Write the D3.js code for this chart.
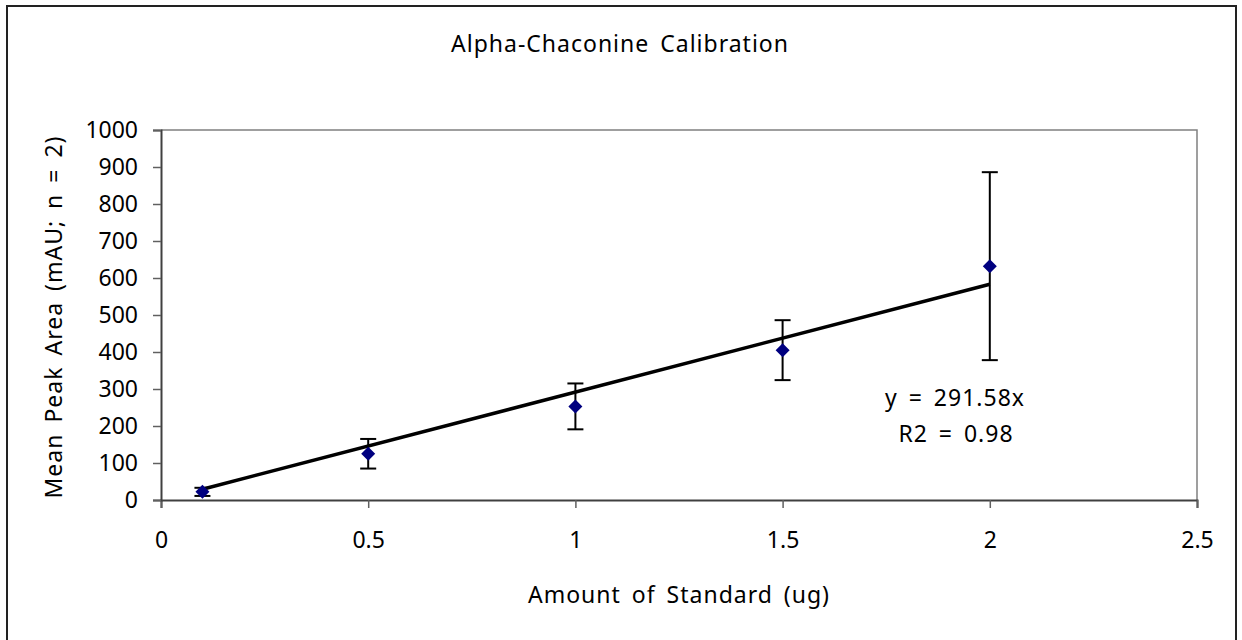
<!DOCTYPE html>
<html>
<head>
<meta charset="utf-8">
<script src="https://cdn.jsdelivr.net/npm/d3@7"></script>
<style>
  html, body { margin: 0; padding: 0; background: #fff; }
  svg { display: block; }
  text { font-family: "Noto Sans", "Open Sans", sans-serif; fill: #000; }
  .lbl { letter-spacing: 1px; word-spacing: 4px; }
</style>
</head>
<body>
<svg id="chart" width="1242" height="640"></svg>
<script>
const amounts = [0.1, 0.5, 1.0, 1.5, 2.0];
const meanArea = [22, 125, 253, 405, 632];
const errArea = [11, 40, 62, 81, 254];
const slope = 291.58;
const rSquared = 0.98;
const xTicks = [0, 0.5, 1, 1.5, 2, 2.5];
const yTicks = [0, 100, 200, 300, 400, 500, 600, 700, 800, 900, 1000];

const svg = d3.select("#chart");
const W = 1242, H = 640;
const plot = { left: 161, right: 1197, top: 130, bottom: 500 };
const fs = 23;

svg.append("rect").attr("x", 0).attr("y", 0).attr("width", W).attr("height", H).attr("fill", "#fff");
// outer chart border (bottom edge lies below the visible area)
svg.append("rect").attr("x", 7).attr("y", 6).attr("width", 1229).attr("height", 660)
  .attr("fill", "none").attr("stroke", "#222").attr("stroke-width", 2);

const x = d3.scaleLinear().domain([0, 2.5]).range([plot.left, plot.right]);
const y = d3.scaleLinear().domain([0, 1000]).range([plot.bottom, plot.top]);

// plot area border (top/right)
svg.append("path")
  .attr("d", `M${plot.left},${plot.top}H${plot.right}V${plot.bottom}`)
  .attr("fill", "none").attr("stroke", "#808080").attr("stroke-width", 1.5);

// axes
const xAxis = svg.append("g").attr("transform", `translate(0,${plot.bottom})`)
  .call(d3.axisBottom(x).tickValues(xTicks).tickFormat(d => String(d)).tickSize(8).tickPadding(24));
const yAxis = svg.append("g").attr("transform", `translate(${plot.left},0)`)
  .call(d3.axisLeft(y).tickValues(yTicks).tickFormat(d => String(d)).tickSize(8).tickPadding(15));
[xAxis, yAxis].forEach(g => {
  g.select(".domain").attr("stroke", "#404040").attr("stroke-width", 2);
  g.selectAll(".tick line").attr("stroke", "#606060").attr("stroke-width", 1.5);
  g.selectAll(".tick text").attr("font-size", fs).attr("font-family", '"Noto Sans", sans-serif').attr("fill", "#000");
});

// trendline
const xMin = d3.min(amounts), xMax = d3.max(amounts);
svg.append("line")
  .attr("x1", x(xMin)).attr("y1", y(slope * xMin))
  .attr("x2", x(xMax)).attr("y2", y(slope * xMax))
  .attr("stroke", "#000").attr("stroke-width", 3.5);

// error bars
const eb = svg.append("g");
amounts.forEach((a, i) => {
  const cx = x(a), top = y(meanArea[i] + errArea[i]), bot = y(meanArea[i] - errArea[i]);
  eb.append("line").attr("x1", cx).attr("x2", cx).attr("y1", top).attr("y2", bot)
    .attr("stroke", "#000").attr("stroke-width", 2);
  [top, bot].forEach(yy => eb.append("line").attr("x1", cx - 8).attr("x2", cx + 8)
    .attr("y1", yy).attr("y2", yy).attr("stroke", "#000").attr("stroke-width", 2));
});

// markers
svg.append("g").selectAll("path").data(amounts).join("path")
  .attr("transform", (d, i) => `translate(${x(d)},${y(meanArea[i])})`)
  .attr("d", "M0,-7L7,0L0,7L-7,0Z")
  .attr("fill", "#000080");

// title
svg.append("text").attr("class", "lbl").attr("x", 620).attr("y", 52).attr("text-anchor", "middle")
  .attr("font-size", fs).text("Alpha-Chaconine Calibration");

// axis titles
svg.append("text").attr("class", "lbl").attr("x", 679).attr("y", 603).attr("text-anchor", "middle")
  .attr("font-size", fs).text("Amount of Standard (ug)");
svg.append("text").attr("class", "lbl").attr("transform", "translate(62,317) rotate(-90)").attr("text-anchor", "middle")
  .attr("font-size", fs).text("Mean Peak Area (mAU; n = 2)");

// equation label
svg.append("text").attr("class", "lbl").attr("x", 955).attr("y", 406).attr("text-anchor", "middle")
  .attr("font-size", fs).text(`y = ${slope}x`);
svg.append("text").attr("class", "lbl").attr("x", 956).attr("y", 442).attr("text-anchor", "middle")
  .attr("font-size", fs).text(`R2 = ${rSquared}`);
</script>
</body>
</html>
